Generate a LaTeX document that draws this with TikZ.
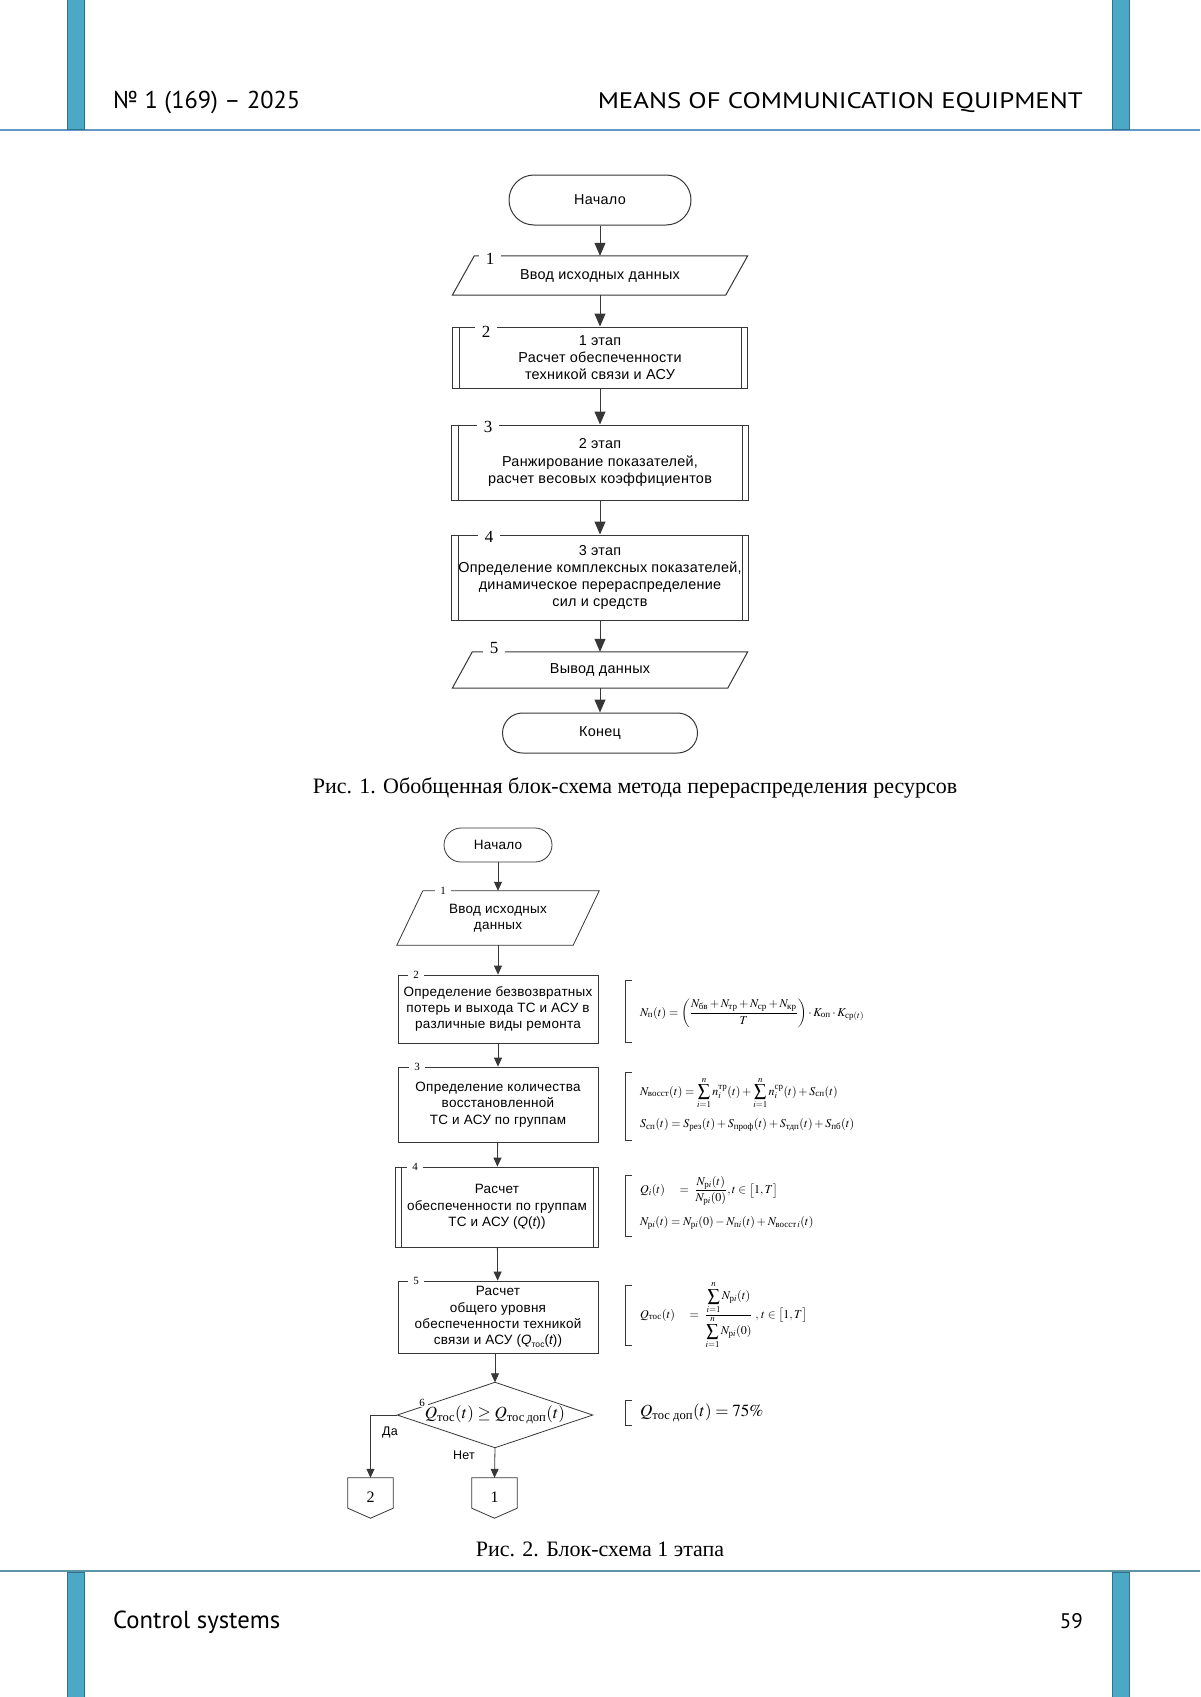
\documentclass[tikz,border=0pt]{standalone}
\usepackage{amsmath}
\usepackage{mathptmx}
\usepackage[no-math]{fontspec}
\setmainfont{Liberation Serif}
\newfontfamily\arial[LetterSpace=2.0]{Liberation Sans}
\newfontfamily\hdr{PT Sans}
\usetikzlibrary{arrows.meta,calc}
\definecolor{barblue}{RGB}{75,168,198}
\definecolor{bardark}{RGB}{45,115,140}
\definecolor{hline}{RGB}{100,152,200}
\definecolor{fline}{RGB}{90,150,165}
\definecolor{lincol}{RGB}{55,55,55}
\tikzset{
  lin/.style={draw=lincol, line width=1pt},
  linB/.style={draw=lincol, line width=0.8pt},
  arA/.style={lin, -{Triangle[length=13pt,width=11pt]}},
  arB/.style={linB, -{Triangle[length=9pt,width=8pt]}},
  txtA/.style={font=\arial\fontsize{14.4}{17.3}\selectfont, align=center, inner sep=0pt},
  txtB/.style={font=\arial\fontsize{13.5}{16.4}\selectfont, align=center, inner sep=0pt},
  boxA/.style={txtA, lin, rectangle},
  boxB/.style={txtB, linB, rectangle},
  numA/.style={font=\fontsize{17}{17}\selectfont, fill=white, inner xsep=7pt, inner ysep=0pt},
  numB/.style={font=\fontsize{11}{11}\selectfont, fill=white, inner xsep=5pt, inner ysep=0pt},
  frm/.style={font=\fontsize{12}{14}\selectfont, anchor=west, inner sep=0pt},
  lbl/.style={font=\arial\fontsize{12.5}{12.5}\selectfont, inner sep=0pt},
  capt/.style={font=\fontsize{22}{22}\selectfont, inner sep=0pt},
}
\newcommand{\paral}[3]{\draw[#3] ($(#1.north west)+(#2,0)$) -- ($(#1.north east)+(#2,0)$) -- ($(#1.south east)-(#2,0)$) -- ($(#1.south west)-(#2,0)$) -- cycle;}
\newcommand{\subp}[3]{\draw[#3] ([xshift=#2]#1.north west) -- ([xshift=#2]#1.south west); \draw[#3] ([xshift=-#2]#1.north east) -- ([xshift=-#2]#1.south east);}
\newcommand{\brk}[3]{\draw[linB] (632,#2) -- (#1,#2) -- (#1,#3) -- (632,#3);}
\newcommand{\tx}[1]{\text{#1}}
\begin{document}
\begin{tikzpicture}[x=1pt,y=-1pt]
\useasboundingbox (0,0) rectangle (1200,1697);
\fill[white] (0,0) rectangle (1200,1697);
% header / footer
\draw[hline, line width=1.6pt] (0,130) -- (1200,130);
\draw[fline, line width=1.6pt] (0,1571) -- (1200,1571);
\filldraw[fill=barblue, draw=bardark, line width=0.8pt] (67,-2) rectangle (84,129);
\filldraw[fill=barblue, draw=bardark, line width=0.8pt] (1112,-2) rectangle (1129,129);
\filldraw[fill=barblue, draw=bardark, line width=0.8pt] (67,1572) rectangle (84,1699);
\filldraw[fill=barblue, draw=bardark, line width=0.8pt] (1112,1572) rectangle (1129,1699);
\node[anchor=base west, inner sep=0pt] (h1) at (113,108) {\resizebox{187pt}{!}{\hdr № 1 (169) – 2025}};
\node[anchor=base east, inner sep=0pt] (h2) at (1083,108) {\resizebox{485pt}{16pt}{\hdr MEANS OF COMMUNICATION EQUIPMENT}};
\node[anchor=base west, inner sep=0pt] (f1) at (113,1628) {\resizebox{167pt}{!}{\hdr Control systems}};
\node[anchor=base east, inner sep=0pt] (f2) at (1083,1628) {\resizebox{!}{15pt}{\hdr 59}};

% ---------- Figure 1 ----------
\node[txtA, lin, minimum width=182pt, minimum height=50pt, rounded corners=25pt] (a0) at (600,200) {Начало};
\node[txtA, minimum width=273pt, minimum height=39pt] (a1) at (600,275.5) {Ввод исходных данных};
\paral{a1}{11}{lin}
\node[boxA, minimum width=295pt, minimum height=61pt] (a2) at (600,357.5) {1 этап\\Расчет обеспеченности\\техникой связи и АСУ};
\subp{a2}{7pt}{lin}
\node[boxA, minimum width=297pt, minimum height=75pt] (a3) at (600,462.5) {2 этап\\Ранжирование показателей,\\расчет весовых коэффициентов};
\subp{a3}{7pt}{lin}
\node[boxA, minimum width=297pt, minimum height=85pt] (a4) at (600,577.5) {3 этап\\Определение комплексных показателей,\\динамическое перераспределение\\сил и средств};
\subp{a4}{7pt}{lin}
\node[txtA, minimum width=275pt, minimum height=36pt] (a5) at (600,670) {Вывод данных};
\paral{a5}{10}{lin}
\node[txtA, lin, minimum width=195pt, minimum height=40pt, rounded corners=20pt] (a6) at (600,733) {Конец};
\draw[arA] (a0) -- (a1);
\draw[arA] (a1) -- (a2);
\draw[arA] (a2) -- (a3);
\draw[arA] (a3) -- (a4);
\draw[arA] (a4) -- (a5);
\draw[arA] (a5) -- (a6);
\node[numA] (n1) at (490,259) {1};
\node[numA] (n2) at (486,332) {2};
\node[numA] (n3) at (488,427) {3};
\node[numA] (n4) at (489,537) {4};
\node[numA] (n5) at (494,648) {5};
\node[capt] (c1) at (635,788) {Рис. 1. Обобщенная блок-схема метода перераспределения ресурсов};

% ---------- Figure 2 ----------
\node[txtB, linB, minimum width=108pt, minimum height=34pt, rounded corners=17pt] (b0) at (498,845) {Начало};
\node[txtB, minimum width=176pt, minimum height=54pt] (b1) at (498,918) {Ввод исходных\\данных};
\paral{b1}{13}{linB}
\node[boxB, minimum width=200pt, minimum height=68pt] (b2) at (498,1009) {Определение безвозвратных\\потерь и выхода ТС и АСУ в\\различные виды ремонта};
\node[boxB, minimum width=200pt, minimum height=75pt] (b3) at (498,1104.5) {Определение количества\\восстановленной\\ТС и АСУ по группам};
\node[boxB, minimum width=203pt, minimum height=80pt] (b4) at (497,1207) {Расчет\\обеспеченности по группам\\ТС и АСУ ({\itshape Q}({\itshape t}))};
\subp{b4}{6pt}{linB}
\node[boxB, minimum width=200pt, minimum height=72pt] (b5) at (498,1317) {Расчет\\общего уровня\\обеспеченности техникой\\связи и АСУ ({\itshape Q}\raisebox{-0.3ex}{\fontsize{8.5}{8.5}\selectfont тос}({\itshape t}))};
\node[minimum width=195pt, minimum height=65pt, inner sep=0pt, font=\fontsize{17}{17}\selectfont] (b6) at (495,1415) {$Q_{\tx{тос}}(t)\geq Q_{\tx{тос\,доп}}(t)$};
\draw[linB] (b6.north) -- (b6.east) -- (b6.south) -- (b6.west) -- cycle;
\node[minimum width=45pt, minimum height=30pt, inner sep=0pt] (o2) at (370.5,1493) {};
\node[minimum width=45pt, minimum height=30pt, inner sep=0pt] (o1) at (494.5,1493) {};
\draw[linB] (o2.north west) -- (o2.north east) -- (o2.south east) -- ($(o2.south)+(0,10)$) -- (o2.south west) -- cycle;
\draw[linB] (o1.north west) -- (o1.north east) -- (o1.south east) -- ($(o1.south)+(0,10)$) -- (o1.south west) -- cycle;
\node[font=\fontsize{16}{16}\selectfont, inner sep=0pt] (o2t) at (370.5,1497) {2};
\node[font=\fontsize{16}{16}\selectfont, inner sep=0pt] (o1t) at (494.5,1497) {1};
\draw[arB] (b0) -- (b1);
\draw[arB] (b1) -- (b2);
\draw[arB] (b2) -- (b3);
\draw[arB] (b3) -- (b4);
\draw[arB] (b4) -- (b5);
\draw[arB] (b5.south -| b6.north) -- (b6.north);
\draw[arB] (b6.west) -| (o2.north);
\draw[arB] (b6.south) -- (o1.north);
\node[lbl] (da) at (390,1432) {Да};
\node[lbl] (net) at (464,1455) {Нет};
\node[numB] (m1) at (443,891) {1};
\node[numB] (m2) at (416,975) {2};
\node[numB] (m3) at (417,1067) {3};
\node[numB] (m4) at (415,1167) {4};
\node[numB] (m5) at (416,1281) {5};
\node[numB, inner xsep=3pt] (m6) at (422,1403) {6};

% formulas
\brk{625}{980}{1042}
\node[frm] (e1) at (640,1013) {$N_{\tx{п}}(t)=\left(\dfrac{N_{\tx{бв}}+N_{\tx{тр}}+N_{\tx{ср}}+N_{\tx{кр}}}{T}\right)\cdot K_{\tx{оп}}\cdot K_{\tx{ср}(t)}$};
\brk{625}{1072}{1140}
\node[frm] (e2) at (640,1093) {$\displaystyle N_{\tx{восст}}(t)=\sum_{i=1}^{n} n_i^{\tx{тр}}(t)+\sum_{i=1}^{n} n_i^{\tx{ср}}(t)+S_{\tx{сп}}(t)$};
\node[frm] (e3) at (640,1125) {$S_{\tx{сп}}(t)=S_{\tx{рез}}(t)+S_{\tx{проф}}(t)+S_{\tx{тдп}}(t)+S_{\tx{пб}}(t)$};
\brk{625}{1175}{1236}
\node[frm] (e4) at (640,1191) {$Q_i(t)\quad=\;\dfrac{N_{\tx{р}i}(t)}{N_{\tx{р}i}(0)},t\in\bigl[1,T\bigr]$};
\node[frm] (e5) at (640,1223) {$N_{\tx{р}i}(t)=N_{\tx{р}i}(0)-N_{\tx{п}i}(t)+N_{\tx{восст}\,i}(t)$};
\brk{625}{1285}{1345}
\node[frm] (e6) at (640,1315) {$Q_{\tx{тос}}(t)\quad=\;\dfrac{\displaystyle\sum_{i=1}^{n}N_{\tx{р}i}(t)}{\displaystyle\sum_{i=1}^{n}N_{\tx{р}i}(0)}\;,\,t\in\bigl[1,T\bigr]$};
\brk{625}{1400}{1425}
\node[frm, font=\fontsize{17}{17}\selectfont] (e7) at (640,1413) {$Q_{\tx{тос доп}}(t)=75\%$};

\node[capt] (c2) at (600,1549) {Рис. 2. Блок-схема 1 этапа};
\end{tikzpicture}
\end{document}
